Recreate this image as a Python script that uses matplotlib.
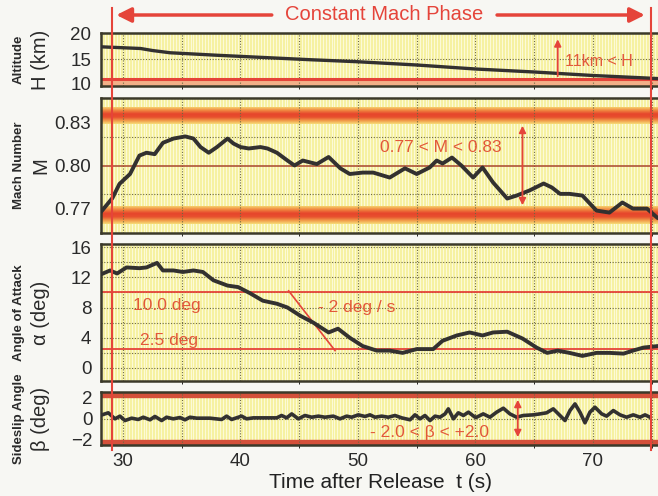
import numpy as np
import matplotlib.pyplot as plt
import matplotlib.transforms as mtransforms
from matplotlib.colors import LinearSegmentedColormap
from matplotlib.lines import Line2D

plt.rcParams['font.family'] = ['Liberation Sans', 'DejaVu Sans']

# ---- data ----
t_alt = [28.0, 30.0, 31.5, 32.5, 34.0, 36.0, 38.0, 42.0, 46.0, 50.0, 55.0, 60.0, 65.0, 70.0, 75.0, 76.6]
alt = [17.45, 17.25, 17.1, 16.7, 16.25, 16.0, 15.75, 15.3, 14.85, 14.45, 13.8, 13.0, 12.4, 11.7, 11.15, 10.95]

t_mach = [28.2, 29.1, 29.7, 30.6, 31.4, 32.0, 32.7, 33.4, 34.3, 35.3, 36.0, 36.6, 37.3, 38.0, 38.9,
          39.4, 40.0, 40.7, 41.7, 42.3, 43.1, 44.0, 44.6, 45.3, 46.5, 47.5, 48.5, 49.3, 50.4, 51.3,
          52.7, 54.0, 55.0, 56.1, 56.7, 57.2, 58.0, 58.8, 59.8, 60.6, 61.5, 62.7, 63.5, 64.6, 65.8,
          66.5, 67.2, 68.0, 69.1, 70.3, 71.4, 72.5, 73.4, 74.6, 75.5, 76.6]
mach = [0.768, 0.777, 0.787, 0.794, 0.807, 0.809, 0.808, 0.816, 0.819, 0.8205, 0.819, 0.813, 0.809, 0.813, 0.819,
        0.8155, 0.813, 0.812, 0.813, 0.812, 0.809, 0.8035, 0.800, 0.8035, 0.801, 0.806, 0.798, 0.794, 0.795, 0.795,
        0.7915, 0.798, 0.794, 0.7986, 0.8035, 0.8014, 0.8056, 0.800, 0.7915, 0.7986, 0.788, 0.7767, 0.7788, 0.7824, 0.7873,
        0.7845, 0.780, 0.780, 0.7788, 0.7682, 0.7668, 0.7739, 0.7696, 0.7696, 0.763, 0.760]

t_aoa = [28.0, 28.9, 29.5, 30.3, 31.4, 32.0, 32.9, 33.4, 34.3, 35.1, 36.0, 36.8, 37.7, 38.9, 39.8,
         40.8, 41.9, 43.1, 44.0, 45.1, 46.2, 47.5, 48.3, 49.3, 50.4, 51.6, 52.7, 53.8, 55.0, 56.4,
         57.2, 58.4, 59.5, 60.6, 61.5, 62.7, 64.0, 65.2, 66.1, 67.0, 68.0, 69.1, 70.3, 71.4, 72.6,
         73.4, 74.3, 75.5, 76.6]
aoa = [12.3, 12.9, 12.5, 13.3, 13.2, 13.3, 13.9, 12.9, 12.9, 12.7, 12.9, 12.7, 11.6, 10.9, 10.7,
       9.9, 8.9, 8.5, 8.0, 6.9, 6.0, 4.7, 5.2, 4.0, 2.9, 2.3, 2.3, 2.0, 2.5, 2.5,
       3.6, 4.3, 4.7, 4.3, 4.7, 4.8, 3.9, 2.7, 2.0, 2.3, 2.0, 1.6, 2.0, 2.0, 1.9,
       2.3, 2.7, 2.9, 3.0]

t_beta = [28.04, 28.75, 29.32, 29.74, 30.17, 30.74, 31.3, 31.73, 32.3, 32.72, 33.29, 33.71, 34.28, 34.85,
          35.28, 35.7, 36.27, 37.4, 38.4, 38.82, 39.25, 39.82, 40.1, 40.52, 41.09, 43.08, 43.5, 43.93,
          44.36, 44.92, 45.49, 46.06, 46.63, 47.19, 47.9, 48.47, 49.04, 49.46, 50.03, 50.6, 51.02, 51.45,
          52.02, 52.58, 53.15, 53.72, 54.43, 54.85, 55.28, 55.7, 56.13, 56.56, 56.98, 57.41, 57.69, 58.12,
          58.54, 58.97, 59.4, 59.96, 60.1, 60.66, 61.23, 61.8, 62.37, 62.93, 63.5, 64.07, 64.92, 65.49,
          66.05, 66.62, 67.19, 67.62, 68.04, 68.47, 68.89, 69.32, 69.74, 70.17, 70.74, 71.16, 71.73, 72.3,
          72.86, 73.43, 74.0, 74.43, 74.85]
beta = [0.28, 0.53, -0.03, 0.22, -0.19, 0.03, -0.09, 0.12, -0.12, 0.19, -0.19, 0.12, -0.03, 0.09,
        -0.12, 0.12, 0.03, 0.03, -0.09, 0.22, -0.09, 0.12, 0.22, -0.03, 0.06, 0.06, 0.28, 0.06,
        0.43, -0.03, 0.28, 0.12, 0.22, 0.12, 0.22, -0.03, 0.22, 0.12, 0.34, 0.19, 0.34, 0.12,
        0.22, 0.12, 0.28, 0.06, -0.12, 0.34, -0.03, 0.28, -0.19, 0.22, 0.12, 0.43, 0.90, -0.03,
        0.53, 0.28, 0.59, 0.12, 0.12, 0.43, 0.12, 0.59, 0.96, 0.43, 0.12, 0.28, 0.34, 0.43,
        0.53, 0.90, 0.28, -0.19, 0.74, 1.36, 0.59, -0.40, 0.59, 1.05, 0.43, 0.22, 0.74, 0.34,
        0.12, 0.34, 0.12, 0.34, 0.12]

phase_start, phase_end = 29.1, 74.9
h_min = 11.0
m_low, m_high = 0.77, 0.83
aoa_high, aoa_low = 10.0, 2.5
aoa_rate = -2.0
beta_lim = 2.0

# ---- styling ----
RED = '#e5443a'
ANN = '#e2583a'
LINE = '#333130'
FRAME = '#3b3929'
BG = '#f6f1a2'
XLIM = (28.13, 76.64)

fig = plt.figure(figsize=(6.58, 4.96), dpi=100, facecolor='#f7f7f3')
left, width = 101 / 658, 570 / 658
H = 496.0


def panel(top, bottom):
    return fig.add_axes([left, 1 - bottom / H, width, (bottom - top) / H])


ax1 = panel(33, 86)
ax2 = panel(98, 233)
ax3 = panel(244, 381)
ax4 = panel(392, 445)
axes = [ax1, ax2, ax3, ax4]

band_cmap = LinearSegmentedColormap.from_list(
    'band', ['#f7dc78', '#f19a48', '#e8502e', '#e6452c', '#f0843e', '#f6cf6c'])


def gband(ax, y0, y1):
    grad = np.linspace(0, 1, 64).reshape(-1, 1)
    ax.imshow(grad, extent=[XLIM[0], XLIM[1], y0, y1], origin='lower', aspect='auto',
              cmap=band_cmap, zorder=1, interpolation='bilinear')


for ax in axes:
    ax.set_facecolor(BG)
    ax.vlines(np.arange(28.0, 77.0, 0.25), -100, 100, color='#fdfbd9', lw=0.7, zorder=0.5)
    for s in ax.spines.values():
        s.set_color(FRAME)
        s.set_linewidth(1.8)
    ax.set_xlim(*XLIM)
    ax.set_xticks(np.arange(30, 80, 5), minor=True)
    ax.set_xticks([30, 40, 50, 60, 70])
    ax.grid(True, which='both', axis='x', color='#6e6a40', ls=(0, (1, 1.5)), lw=0.8, zorder=2)
    ax.tick_params(length=0, labelsize=13.5, pad=7, colors='#2a2a2a')
    if ax is not ax4:
        ax.tick_params(labelbottom=False)

# altitude
ax1.set_ylim(9.6, 20.2)
ax1.set_yticks([10, 15, 20])
ax1.axhline(15, color='#6e6a40', ls=(0, (1, 1.5)), lw=0.8, zorder=2)
ax1.axhspan(9.6, h_min, color='#f2b088', zorder=1)
ax1.axhline(h_min, color=RED, lw=2.2, zorder=2.5)
ax1.plot(t_alt, alt, color=LINE, lw=2.4, zorder=3)
ax1.annotate('', xy=(67.0, 19.5), xytext=(67.0, h_min), zorder=4,
             arrowprops=dict(arrowstyle='-|>', color=RED, lw=1.3, mutation_scale=10))
ax1.text(67.6, 14.4, '11km < H', color=ANN, fontsize=11.5, va='center', zorder=4)

# mach
ax2.set_ylim(0.7524, 0.8476)
ax2.set_yticks([0.77, 0.80, 0.83])
ax2.set_yticklabels(['0.77', '0.80', '0.83'])
gband(ax2, 0.8292, 0.8405)
gband(ax2, 0.7585, 0.7708)
for v in [0.78, 0.82]:
    ax2.axhline(v, color='#6e6a40', ls=(0, (1, 1.5)), lw=0.8, zorder=2)
ax2.axhline(0.80, color='#a8452e', lw=1.1, zorder=2)
ax2.plot(t_mach, mach, color=LINE, lw=2.8, zorder=3)
ax2.annotate('', xy=(64.0, m_high), xytext=(64.0, m_low), zorder=4,
             arrowprops=dict(arrowstyle='<|-|>', color=RED, lw=1.3, mutation_scale=10))
ax2.text(51.9, 0.8127, '0.77 < M < 0.83', color=ANN, fontsize=12.5, va='center', zorder=4)

# angle of attack
ax3.set_ylim(-1.72, 16.4)
ax3.set_yticks([0, 4, 8, 12, 16])
for v in np.arange(0, 17, 2):
    ax3.axhline(v, color='#6e6a40', ls=(0, (1, 1.5)), lw=0.8, zorder=2)
ax3.axhline(aoa_high, color=RED, lw=1.3, zorder=2.5)
ax3.axhline(aoa_low, color=RED, lw=1.3, zorder=2.5)
t_rate = np.array([44.1, 48.05])
ax3.plot(t_rate, aoa_high + aoa_rate * (t_rate - 44.1) + 0.2, color=RED, lw=1.2, zorder=2.5)
ax3.plot(t_aoa, aoa, color=LINE, lw=2.8, zorder=3)
ax3.text(30.85, 8.3, '10.0 deg', color=ANN, fontsize=12.5, va='center', zorder=4)
ax3.text(31.45, 3.7, '2.5 deg', color=ANN, fontsize=12.5, va='center', zorder=4)
ax3.text(46.6, 8.0, '- 2 deg / s', color=ANN, fontsize=12.5, va='center', zorder=4)

# sideslip
ax4.set_ylim(-2.47, 2.47)
ax4.set_yticks([-2, 0, 2])
ax4.axhline(0, color='#6e6a40', ls=(0, (1, 1.5)), lw=0.8, zorder=2)
ax4.axhspan(beta_lim, 2.47, color='#d4503a', zorder=1)
ax4.axhspan(-2.47, -beta_lim, color='#d4503a', zorder=1)
ax4.plot(t_beta, beta, color=LINE, lw=2.6, zorder=3)
ax4.annotate('', xy=(63.6, beta_lim), xytext=(63.6, -beta_lim), zorder=4,
             arrowprops=dict(arrowstyle='<|-|>', color=RED, lw=1.3, mutation_scale=10))
ax4.text(51.0, -1.3, '- 2.0 < \u03b2 < +2.0', color=ANN, fontsize=12.5, va='center', zorder=4)
ax4.tick_params(labelbottom=True, pad=6)
ax4.set_xlabel('Time after Release  t (s)', fontsize=15, color='#222222', labelpad=4)
ax4.xaxis.set_label_coords((380 - 101) / 570, -0.52)

# phase markers across all panels
tr = mtransforms.blended_transform_factory(ax4.transData, fig.transFigure)
for tp in [phase_start, phase_end]:
    fig.add_artist(Line2D([tp, tp], [1 - 450 / H, 1 - 8 / H], transform=tr, color=RED, lw=1.5, zorder=10))
fig.text(52.2, 1 - 15 / H, 'Constant Mach Phase', transform=tr, color=RED, fontsize=14.5,
         ha='center', va='center')
ax4.annotate('', xy=(phase_start + 0.1, 1 - 15 / H), xytext=(42.9, 1 - 15 / H),
             xycoords=tr, textcoords=tr, annotation_clip=False,
             arrowprops=dict(arrowstyle='-|>', color=RED, lw=2.5, mutation_scale=22))
ax4.annotate('', xy=(phase_end - 0.25, 1 - 15 / H), xytext=(61.6, 1 - 15 / H),
             xycoords=tr, textcoords=tr, annotation_clip=False,
             arrowprops=dict(arrowstyle='-|>', color=RED, lw=2.5, mutation_scale=22))

# y labels
labels = [(ax1, 'Altitude', 'H (km)'), (ax2, 'Mach Number', 'M'),
          (ax3, 'Angle of Attack', '\u03b1 (deg)'), (ax4, 'Sideslip Angle', '\u03b2 (deg)')]
for ax, small, big in labels:
    b = ax.get_position()
    yc = b.y0 + b.height / 2
    fig.text(19 / 658, yc, small, rotation=90, ha='center', va='center', fontsize=9.5,
             fontweight='bold', color='#2a2a2a')
    fig.text(41 / 658, yc, big, rotation=90, ha='center', va='center', fontsize=14.5, color='#2a2a2a')

fig.savefig('out.png', dpi=100, facecolor=fig.get_facecolor())
